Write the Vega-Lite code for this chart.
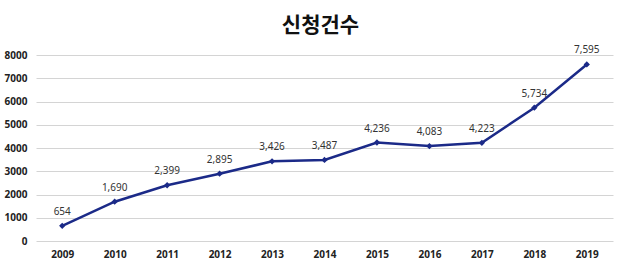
{
  "$schema": "https://vega.github.io/schema/vega-lite/v6.json",
  "width": 577,
  "height": 186,
  "autosize": {"type": "none"},
  "padding": {"left": 36, "top": 55, "right": 27, "bottom": 28},
  "background": "white",
  "title": {
    "text": "신청건수",
    "font": "Noto Sans CJK KR",
    "fontSize": 21,
    "fontWeight": "bold",
    "color": "#111111",
    "anchor": "middle",
    "dx": -4,
    "offset": 9
  },
  "config": {"view": {"stroke": null}},
  "data": {
    "values": [
      {"year": "2009", "count": 654},
      {"year": "2010", "count": 1690},
      {"year": "2011", "count": 2399},
      {"year": "2012", "count": 2895},
      {"year": "2013", "count": 3426},
      {"year": "2014", "count": 3487},
      {"year": "2015", "count": 4236},
      {"year": "2016", "count": 4083},
      {"year": "2017", "count": 4223},
      {"year": "2018", "count": 5734},
      {"year": "2019", "count": 7595}
    ]
  },
  "encoding": {
    "x": {
      "field": "year",
      "type": "ordinal",
      "scale": {"type": "point", "padding": 0.5},
      "axis": {
        "title": null,
        "labelAngle": 0,
        "domain": false,
        "ticks": false,
        "labelPadding": 8,
        "labelFont": "Noto Sans",
        "labelFontWeight": "bold",
        "labelFontSize": 10,
        "labelColor": "#222222"
      }
    },
    "y": {
      "field": "count",
      "type": "quantitative",
      "scale": {"domain": [0, 8000]},
      "axis": {
        "title": null,
        "values": [0, 1000, 2000, 3000, 4000, 5000, 6000, 7000, 8000],
        "format": "d",
        "domain": false,
        "ticks": false,
        "labelPadding": 9,
        "labelFont": "Noto Sans",
        "labelFontWeight": "bold",
        "labelFontSize": 10,
        "labelColor": "#222222",
        "gridColor": "#d4d4d4",
        "gridWidth": 1
      }
    }
  },
  "layer": [
    {
      "mark": {"type": "line", "color": "#1b2a88", "strokeWidth": 2.5}
    },
    {
      "mark": {"type": "point", "shape": "diamond", "filled": true, "color": "#1b2a88", "size": 40, "opacity": 1}
    },
    {
      "mark": {"type": "text", "dy": -14, "font": "Noto Sans", "fontSize": 10, "color": "#333333"},
      "encoding": {"text": {"field": "count", "type": "quantitative", "format": ","}}
    }
  ]
}
